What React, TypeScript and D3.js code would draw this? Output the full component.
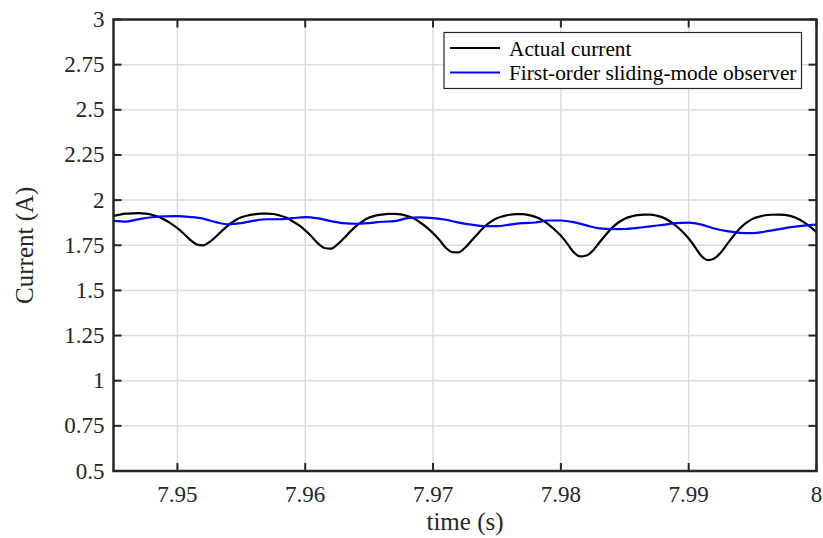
import React from "react";
import * as d3 from "d3";

const W = 823;
const H = 538;

// Actual current sampled every 0.0005 s from 7.945 to 8.000
const actualStart = 7.945;
const actualStep = 0.0005;
const actualCurrent = [
  1.913, 1.92, 1.925, 1.927,
  1.928, 1.925, 1.919, 1.908, 1.891, 1.87, 1.845, 1.814, 1.78, 1.755,
  1.749, 1.767, 1.797, 1.831, 1.862, 1.887, 1.905, 1.915, 1.921, 1.925,
  1.925, 1.923, 1.915, 1.903, 1.883, 1.861, 1.832, 1.798, 1.76, 1.735,
  1.731, 1.753, 1.787, 1.824, 1.857, 1.884, 1.903, 1.914, 1.92, 1.924,
  1.924, 1.921, 1.912, 1.898, 1.876, 1.849, 1.817, 1.779, 1.736, 1.712,
  1.711, 1.736, 1.775, 1.814, 1.851, 1.879, 1.9, 1.911, 1.919, 1.922,
  1.922, 1.917, 1.907, 1.891, 1.867, 1.837, 1.802, 1.759, 1.712, 1.688,
  1.693, 1.72, 1.764, 1.807, 1.846, 1.876, 1.897, 1.909, 1.917, 1.92,
  1.92, 1.914, 1.903, 1.884, 1.858, 1.826, 1.787, 1.74, 1.69, 1.668,
  1.677, 1.708, 1.755, 1.801, 1.843, 1.874, 1.896, 1.908, 1.916, 1.919,
  1.92, 1.918, 1.911, 1.898, 1.878, 1.853, 1.822,
];

// Observer estimate sampled every 0.001 s from 7.945 to 8.000
const observerStart = 7.945;
const observerStep = 0.001;
const observerCurrent = [
  1.885, 1.881, 1.895, 1.905, 1.91, 1.911, 1.906, 1.897, 1.878, 1.866,
  1.873, 1.886, 1.894, 1.894, 1.9, 1.906, 1.899, 1.884, 1.872, 1.869,
  1.873, 1.88, 1.884, 1.9, 1.904, 1.9, 1.891, 1.875, 1.864, 1.856,
  1.856, 1.864, 1.872, 1.876, 1.887, 1.887, 1.878, 1.86, 1.843, 1.839,
  1.84, 1.846, 1.855, 1.863, 1.872, 1.875, 1.864, 1.843, 1.828, 1.819,
  1.817, 1.826, 1.838, 1.85, 1.859, 1.864,
];

const xTicks = [7.95, 7.96, 7.97, 7.98, 7.99, 8];
const xTickLabels = ["7.95", "7.96", "7.97", "7.98", "7.99", "8"];
const yTicks = [0.5, 0.75, 1, 1.25, 1.5, 1.75, 2, 2.25, 2.5, 2.75, 3];
const yTickLabels = ["0.5", "0.75", "1", "1.25", "1.5", "1.75", "2", "2.25", "2.5", "2.75", "3"];

const seriesNames = ["Actual current", "First-order sliding-mode observer"];
const seriesColors = ["#000000", "#0000ff"];

const FONT = "'Liberation Serif', 'Times New Roman', serif";
const AXIS = "#262626";

export default function App() {
  const left = 113.5;
  const right = 816.5;
  const top = 19.5;
  const bottom = 471;

  const x = d3.scaleLinear().domain([7.945, 8]).range([left, right]);
  const y = d3.scaleLinear().domain([0.5, 3]).range([bottom, top]);

  const actualData = actualCurrent.map((v, i) => [actualStart + i * actualStep, v] as [number, number]);
  const observerData = observerCurrent.map((v, i) => [observerStart + i * observerStep, v] as [number, number]);

  const lineGen = d3
    .line<[number, number]>()
    .x((d) => x(d[0]))
    .y((d) => y(d[1]))
    .curve(d3.curveMonotoneX);

  const tickLen = 8;

  return (
    <svg
      width={W}
      height={H}
      style={{ position: "absolute", left: 0, top: 0, background: "#fff" }}
      fontFamily={FONT}
    >
      <rect x={0} y={0} width={W} height={H} fill="#fff" />
      <defs>
        <clipPath id="plotclip">
          <rect x={left} y={top} width={right - left} height={bottom - top} />
        </clipPath>
      </defs>
      {/* grid */}
      <g stroke="#dcdcdc" strokeWidth={1.5}>
        {xTicks
          .filter((t) => t < 8)
          .map((t) => (
            <line key={"gx" + t} x1={x(t)} x2={x(t)} y1={top} y2={bottom} />
          ))}
        {yTicks
          .filter((t) => t > 0.5 && t < 3)
          .map((t) => (
            <line key={"gy" + t} x1={left} x2={right} y1={y(t)} y2={y(t)} />
          ))}
      </g>
      {/* data */}
      <g clipPath="url(#plotclip)" fill="none">
        <path d={lineGen(actualData) || ""} stroke={seriesColors[0]} strokeWidth={2.2} />
        <path d={lineGen(observerData) || ""} stroke={seriesColors[1]} strokeWidth={2.2} />
      </g>
      {/* ticks */}
      <g stroke={AXIS} strokeWidth={2}>
        {xTicks.map((t) => (
          <g key={"tx" + t}>
            <line x1={x(t)} x2={x(t)} y1={bottom} y2={bottom - tickLen} />
            <line x1={x(t)} x2={x(t)} y1={top} y2={top + tickLen} />
          </g>
        ))}
        {yTicks.map((t) => (
          <g key={"ty" + t}>
            <line x1={left} x2={left + tickLen} y1={y(t)} y2={y(t)} />
            <line x1={right} x2={right - tickLen} y1={y(t)} y2={y(t)} />
          </g>
        ))}
      </g>
      {/* box */}
      <rect
        x={left}
        y={top}
        width={right - left}
        height={bottom - top}
        fill="none"
        stroke={AXIS}
        strokeWidth={2.5}
      />
      {/* tick labels */}
      <g fill={AXIS} fontSize={23}>
        {xTicks.map((t, i) => (
          <text key={"lx" + t} x={x(t)} y={bottom + 31} textAnchor="middle">
            {xTickLabels[i]}
          </text>
        ))}
        {yTicks.map((t, i) => (
          <text key={"ly" + t} x={left - 9} y={y(t)} textAnchor="end" dominantBaseline="central">
            {yTickLabels[i]}
          </text>
        ))}
      </g>
      {/* axis titles */}
      <text x={(left + right) / 2} y={530} textAnchor="middle" fontSize={25} fill={AXIS}>
        time (s)
      </text>
      <text
        transform={`translate(33, ${(top + bottom) / 2}) rotate(-90)`}
        textAnchor="middle"
        fontSize={25}
        fill={AXIS}
      >
        Current (A)
      </text>
      {/* legend */}
      <g>
        <rect x={444} y={32.5} width={357.5} height={56} fill="#fff" stroke={AXIS} strokeWidth={1.2} />
        {seriesNames.map((name, i) => (
          <g key={name}>
            <line
              x1={450}
              x2={500}
              y1={48 + i * 24.5}
              y2={48 + i * 24.5}
              stroke={seriesColors[i]}
              strokeWidth={2.2}
            />
            <text x={509} y={48.5 + i * 24.5} dominantBaseline="central" fontSize={21.3} fill="#000">
              {name}
            </text>
          </g>
        ))}
      </g>
    </svg>
  );
}
